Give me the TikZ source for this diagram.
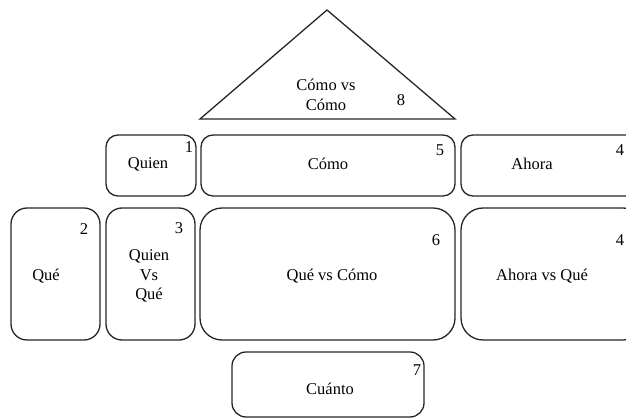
\documentclass[tikz,border=0pt]{standalone}
\usepackage{fontspec}
\setmainfont{Liberation Serif}
\begin{document}
\begin{tikzpicture}[x=1pt,y=-1pt,
  box/.style={draw=black!85, line width=1.3pt, rounded corners=#1, inner sep=0pt},
  box/.default=12pt,
  lbl/.style={font=\fontsize{16.5}{19.5}\selectfont, align=center, inner sep=0pt},
  num/.style={font=\fontsize{16.5}{18}\selectfont, inner sep=0pt}]
\useasboundingbox (0,0) rectangle (626,419);
\clip (0,0) rectangle (626,419);
% triangle
\coordinate (tA) at (327,10);
\coordinate (tL) at (200,119);
\coordinate (tR) at (455,119);
\draw[draw=black!85, line width=1.3pt, line join=miter] (tA) -- (tL) -- (tR) -- cycle;
\node[lbl] (t8) at (326,95) {Cómo vs\\Cómo};
\node[num] (n8) at (401,100) {8};
% row 1
\draw[box] (106,135) rectangle (196,196); \node[lbl] (quien) at (148,164) {Quien};
\node[num] (n1) at (189,147) {1};
\draw[box] (201,135) rectangle (455,196); \node[lbl] (como) at (328,164) {Cómo};
\node[num] (n5) at (440,150) {5};
\draw[box] (461,135) rectangle (640,196); \node[lbl] (ahora) at (532,164) {Ahora};
\node[num] (n4a) at (620,150) {4};
% row 2
\draw[box=16pt] (11,208) rectangle (100,340); \node[lbl] (que) at (46,276) {Qué};
\node[num] (n2) at (84,229) {2};
\draw[box=16pt] (106,208) rectangle (195,340); \node[lbl] (qvq) at (149,276) {Quien\\Vs\\Qué};
\node[num] (n3) at (179,228) {3};
\draw[box=22pt] (200,208) rectangle (455,340); \node[lbl] (qvc) at (332,276) {Qué vs Cómo};
\node[num] (n6) at (436,240) {6};
\draw[box=22pt] (461,208) rectangle (645,340); \node[lbl] (avq) at (542,276) {Ahora vs Qué};
\node[num] (n4b) at (620,240) {4};
% row 3
\draw[box=14pt] (232,352) rectangle (424,417); \node[lbl] (cuanto) at (330,389) {Cuánto};
\node[num] (n7) at (417,370) {7};
\end{tikzpicture}
\end{document}
